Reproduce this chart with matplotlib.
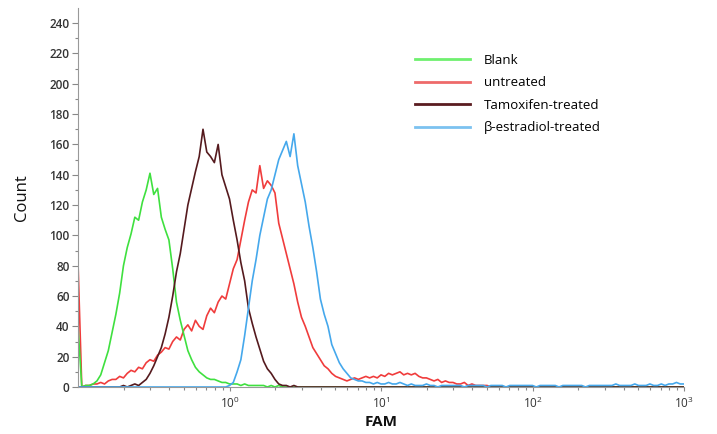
import numpy as np
import matplotlib
matplotlib.use('Agg')
import matplotlib.pyplot as plt
from matplotlib.lines import Line2D
from matplotlib.ticker import LogLocator, FixedLocator, NullFormatter

plt.rcParams['font.family'] = ['Open Sans', 'DejaVu Sans']

# channels on a log FAM axis, 40 channels per decade, from 10^-1 to 10^3
channel = np.arange(161)
fam = 10 ** (channel / 40 - 1)

blank = ([40, 0, 1, 1, 2, 4, 8, 16, 24, 36,
          48, 62, 80, 92, 101, 112, 110, 122, 130, 141,
          127, 131, 112, 104, 97, 78, 56, 44, 34, 24,
          18, 13, 10, 8, 6, 5, 5, 4, 3, 3,
          2, 2, 2, 1, 2, 1, 1, 1, 1, 1,
          0, 1, 0, 1, 0, 0, 0, 0, 0, 0]
         + [0] * 101)

untreated = ([82, 0, 1, 1, 2, 2, 3, 2, 4, 5,
              5, 7, 6, 9, 11, 10, 13, 12, 16, 18,
              17, 21, 23, 26, 25, 30, 33, 31, 38, 41,
              37, 44, 40, 38, 47, 52, 49, 56, 60, 58,
              68, 78, 84, 97, 110, 122, 130, 128, 146, 131,
              136, 133, 128, 108, 98, 88, 78, 68, 56, 46,
              40, 33, 26, 22, 18, 14, 12, 9, 7, 6,
              5, 4, 5, 6, 5, 6, 7, 6, 7, 6,
              8, 7, 9, 8, 9, 10, 8, 9, 8, 9,
              7, 6, 6, 5, 4, 5, 3, 4, 3, 3,
              2, 2, 3, 1, 2, 1, 1, 1, 1, 0]
             + [0] * 51)

tamoxifen = ([0] * 10
             + [0, 0, 1, 0, 1, 2, 1, 3, 5, 9,
                14, 20, 26, 35, 46, 60, 76, 88, 104, 120,
                131, 142, 152, 170, 155, 152, 148, 160, 140, 132,
                124, 110, 97, 82, 70, 52, 42, 33, 25, 17,
                12, 9, 5, 2, 1, 1, 0, 1, 0, 0]
             + [0] * 101)

estradiol = ([0] * 40
             + [1, 3, 10, 18, 34, 52, 70, 84, 100, 112,
                124, 130, 140, 150, 156, 162, 152, 167, 146, 134,
                122, 106, 92, 76, 58, 48, 40, 28, 22, 16,
                12, 9, 6, 5, 4, 4, 3, 3, 2, 3,
                2, 2, 3, 2, 2, 3, 2, 1, 2, 1,
                1, 1, 2, 1, 1, 0, 1, 1, 1, 1,
                1, 1, 0, 1, 1, 1, 1, 1, 0, 1,
                1, 1, 1, 0, 1, 1, 1, 1, 1, 1,
                1, 0, 1, 1, 1, 1, 1, 0, 1, 1,
                1, 1, 1, 1, 0, 1, 1, 1, 1, 1,
                1, 1, 2, 1, 1, 1, 1, 2, 1, 1,
                1, 2, 1, 1, 2, 1, 2, 2, 3, 2,
                2])

labels = ['Blank', 'untreated', 'Tamoxifen-treated', 'β-estradiol-treated']
colors = ['#3fe03f', '#f03c3c', '#551a1e', '#45a8ec']
legend_colors = ['#6ff06f', '#ee6a6a', '#5a1c20', '#7cc2f0']

fig = plt.figure(figsize=(7.17, 4.34), dpi=100)
ax = fig.add_axes([0.1088, 0.1083, 0.8452, 0.8733])

ax.plot(fam, untreated, color=colors[1], lw=1.2)
ax.plot(fam, blank, color=colors[0], lw=1.2)
ax.plot(fam, tamoxifen, color=colors[2], lw=1.2)
ax.plot(fam, estradiol, color=colors[3], lw=1.2)

ax.set_xscale('log')
ax.set_xlim(0.1, 1000)
ax.set_ylim(0, 250)

ax.xaxis.set_major_locator(FixedLocator([1, 10, 100, 1000]))
ax.xaxis.set_minor_locator(LogLocator(base=10, subs=np.arange(2, 10)))
ax.xaxis.set_minor_formatter(NullFormatter())
ax.set_yticks(np.arange(0, 241, 20))
ax.set_yticks(np.arange(10, 250, 20), minor=True)

for s in ['top', 'right']:
    ax.spines[s].set_visible(False)
for s in ['left', 'bottom']:
    ax.spines[s].set_color('#999999')
    ax.spines[s].set_linewidth(0.8)

ax.tick_params(axis='both', which='both', colors='#888888', width=0.8)
ax.tick_params(axis='y', which='major', length=4, labelsize=8.5, labelcolor='#333333', pad=2)
ax.tick_params(axis='y', which='minor', length=2.5)
ax.tick_params(axis='x', which='major', length=3, labelsize=8.5, labelcolor='#333333', pad=3)
ax.tick_params(axis='x', which='minor', length=2)
for t in ax.get_yticklabels():
    t.set_fontweight('semibold')

ax.set_ylabel('Count', fontsize=12, color='#111111', labelpad=14)
ax.set_xlabel('FAM', fontsize=11, fontweight='bold', color='#111111', labelpad=3)

handles = [Line2D([], [], color=c, lw=2) for c in legend_colors]
fig.legend(handles, labels,
           loc='upper left', bbox_to_anchor=(415 / 717, 1 - 54 / 434),
           frameon=False, fontsize=9.5, handlelength=4.2, handletextpad=1.0,
           labelspacing=0.72, borderpad=0, borderaxespad=0)

fig.savefig('out.png', dpi=100)
